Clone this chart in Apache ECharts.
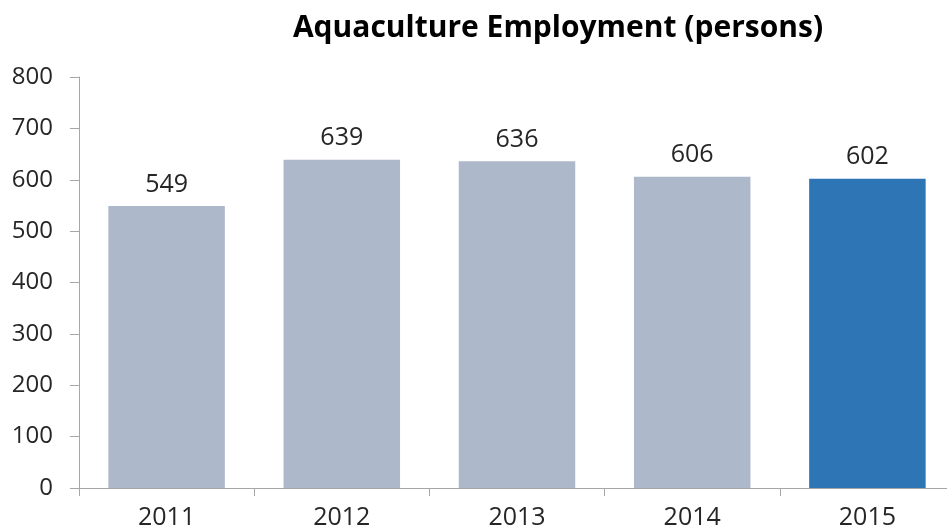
<!DOCTYPE html>
<html><head><meta charset="utf-8">
<script src="https://cdn.jsdelivr.net/npm/echarts@6/dist/echarts.min.js"></script>
<style>html,body{margin:0;padding:0;background:#fff;overflow:hidden}#c{width:960px;height:531px}</style>
</head><body><div id="c"></div>
<script>
const categories = ['2011','2012','2013','2014','2015'];
const values = [549, 639, 636, 606, 602];
const yTicks = [0,100,200,300,400,500,600,700,800];
const highlightIndex = 4;

const chart = echarts.init(document.getElementById('c'));
chart.setOption({
  animation:false,
  title:{text:'Aquaculture Employment (persons)', left:553, top:8, textAlign:'center',
    textStyle:{fontFamily:'Open Sans', fontWeight:'bold', fontSize:30, color:'#000'}},
  grid:{left:79, right:5, top:77, bottom:43, containLabel:false},
  xAxis:{type:'category', data:categories,
    axisLine:{lineStyle:{color:'#A6A6A6'}},
    axisTick:{show:true, length:8, lineStyle:{color:'#A6A6A6'}},
    axisLabel:{fontFamily:'Open Sans', fontSize:25, color:'#262626', margin:17}},
  yAxis:{type:'value', min:0, max:800, interval:100,
    splitLine:{show:false},
    axisLine:{show:true, lineStyle:{color:'#A6A6A6'}},
    axisTick:{show:true, length:9, lineStyle:{color:'#A6A6A6'}},
    axisLabel:{fontFamily:'Open Sans', fontSize:24, color:'#262626', margin:26}},
  series:[{type:'bar', barWidth:'66.5%',
    data: values.map((v,i)=>({value:v, itemStyle:{color: i===highlightIndex ? '#2E75B6' : '#ADB9CA'}})),
    label:{show:true, position:'top', distance:9, fontFamily:'Open Sans', fontSize:25, color:'#262626'}}]
});
</script></body></html>
